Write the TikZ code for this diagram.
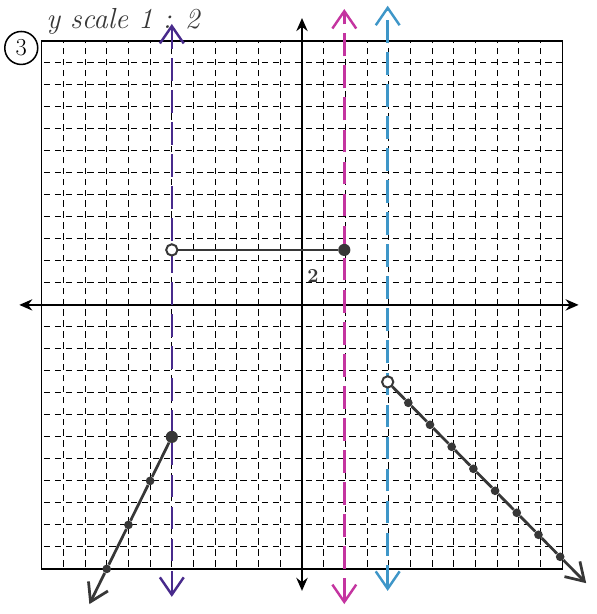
\documentclass[tikz,border=0pt]{standalone}
\usepackage{tikz}
\usetikzlibrary{arrows.meta,positioning}

\definecolor{AsPurple}{RGB}{72,42,140}
\definecolor{AsMagenta}{RGB}{196,52,160}
\definecolor{AsBlue}{RGB}{62,150,200}
\definecolor{Pencil}{RGB}{55,55,55}

\begin{document}
\begin{tikzpicture}[x=0.5cm,y=0.507cm]
				\tikzstyle{Grid}	= [black, line width=0.7pt, dash pattern=on 4.2pt off 2.95pt, dash phase=5.7pt]
				\tikzstyle{Frame}	= [black, line width=0.8pt]
				\tikzstyle{Axis}	= [black, line width=1.3pt, {Stealth[length=3mm,width=2.6mm]}-{Stealth[length=3mm,width=2.6mm]}]
				\tikzstyle{Asym}	= [line width=1.6pt, dash pattern=on 15pt off 6pt, {Straight Barb[length=4mm,width=5.5mm]}-{Straight Barb[length=4mm,width=5.5mm]}]
				\tikzstyle{Piece}	= [Pencil, line width=1.8pt]
				\tikzstyle{Open}	= [circle, draw=Pencil, line width=1.3pt, fill=white, minimum size=2.6mm, inner sep=0pt]
				\tikzstyle{Closed}	= [circle, fill=Pencil, minimum size=2.8mm, inner sep=0pt]
				\tikzstyle{Mark}	= [circle, fill=Pencil, minimum size=2mm, inner sep=0pt]
				\tikzstyle{Tip}		= [-{Straight Barb[length=4mm,width=5mm]}]

				\fill [white] (-13.92,-14.05) rectangle (13.59,13.86);
				\useasboundingbox (-13.92,-14.05) rectangle (13.59,13.86);

				% grid paper
				\draw [Grid] (-12,-12) grid [xstep=0.5cm, ystep=0.507cm] (12,12);
				\draw [Frame] (-12,-12) rectangle (12,12);

				% axes
				\coordinate (xl) at (-13.03,0);
				\coordinate (xr) at (12.75,0);
				\coordinate (yb) at (0,-13);
				\coordinate (yt) at (0,13.04);
				\draw [Axis] (xl) -- (xr);
				\draw [Axis] (yb) -- (yt);

				% asymptotes
				\coordinate (pb) at (-6,-13.27);
				\coordinate (pt) at (-6,12.77);
				\coordinate (mb) at (1.95,-13.6);
				\coordinate (mt) at (1.95,13.45);
				\coordinate (bb) at (3.95,-13.0);
				\coordinate (bt) at (3.95,13.6);
				\draw [Asym, AsPurple] (pb) -- (pt);
				\draw [Asym, AsMagenta] (mb) -- (mt);
				\draw [Asym, AsBlue] (bb) -- (bt);

				% pieces
				\node (p0) at (-6,2.5) [Open] {};
				\node (p1) at (1.95,2.5) [Closed] {};
				\draw [Piece] (p0) to (p1);

				\node (q0) at (-6,-6) [Closed] {};
				\node (q1) at (-7,-8) [Mark] {};
				\node (q2) at (-8,-10) [Mark] {};
				\node (q3) at (-9,-12) [Mark] {};
				\coordinate (q4) at (-9.8,-13.6);
				\draw [Piece] (q0) to (q1);
				\draw [Piece] (q1) to (q2);
				\draw [Piece] (q2) to (q3);
				\draw [Piece, Tip] (q3) to (q4);

				\node (r0) at (3.95,-3.5) [Open] {};
				\node (r1) at (4.9,-4.45) [Mark] {};
				\node (r2) at (5.9,-5.45) [Mark] {};
				\node (r3) at (6.9,-6.45) [Mark] {};
				\node (r4) at (7.9,-7.45) [Mark] {};
				\node (r5) at (8.9,-8.45) [Mark] {};
				\node (r6) at (9.9,-9.45) [Mark] {};
				\node (r7) at (10.9,-10.45) [Mark] {};
				\node (r8) at (11.9,-11.45) [Mark] {};
				\coordinate (r9) at (13.1,-12.65);
				\draw [Piece] (r0) to (r1);
				\draw [Piece] (r1) to (r2);
				\draw [Piece] (r2) to (r3);
				\draw [Piece] (r3) to (r4);
				\draw [Piece] (r4) to (r5);
				\draw [Piece] (r5) to (r6);
				\draw [Piece] (r6) to (r7);
				\draw [Piece] (r7) to (r8);
				\draw [Piece, Tip] (r8) to (r9);

				% labels
				\node (two) at (0.5,1.3) [text=Pencil] {\fontsize{13}{13}\selectfont\bfseries 2};
				\node (scale) at (-11.8,12.55) [anchor=base west, inner sep=0pt, text=Pencil] {\fontsize{19}{19}\selectfont\itshape y scale 1 : 2};
				\node (num) at (-12.94,11.68) [circle, draw=black, line width=1pt, minimum size=7.6mm, inner sep=0pt] {\fontsize{16}{16}\selectfont 3};
			\end{tikzpicture}
\end{document}
